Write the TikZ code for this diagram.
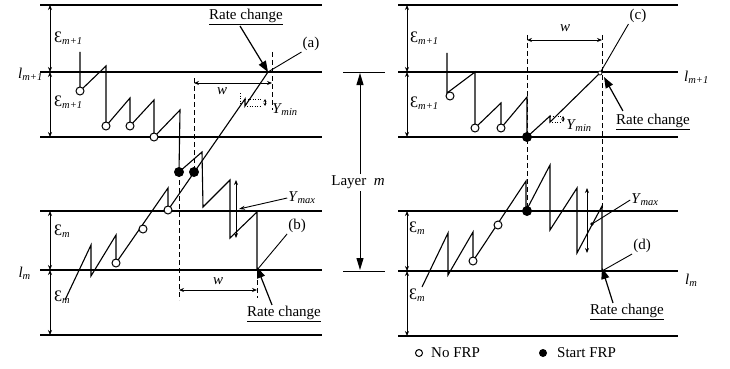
\documentclass[tikz,border=0pt]{standalone}
\usepackage{fontspec}
\setmainfont{Liberation Serif}
\usetikzlibrary{arrows.meta}
\newcommand\eps[1]{{\fontsize{16}{18}\selectfont Ɛ}\textsubscript{\textit{#1}}}
\newcommand\lvar[1]{\textit{l}\textsubscript{\textit{#1}}}
\newcommand\yvar[1]{\textit{Y}\kern-0.5pt\textsubscript{\textit{#1}}}
\tikzset{
 lvl/.style={line width=1.8pt},
 dimar/.style={line width=0.8pt, {Stealth[length=5pt,width=4pt]}-{Stealth[length=5pt,width=4pt]}},
 saw/.style={line width=1.1pt, line join=miter},
 opn/.style={circle, draw, line width=1pt, fill=white, inner sep=0pt, minimum size=8pt},
 fil/.style={circle, fill=black, inner sep=0pt, minimum size=10pt},
 dsh/.style={line width=1pt, dash pattern=on 5pt off 3pt},
 dtt/.style={line width=0.8pt, dash pattern=on 1pt off 1.5pt},
 lbl/.style={font=\fontsize{15}{17}\selectfont, inner sep=1pt},
 rcarrow/.style={line width=1.2pt, -{Triangle[length=11pt,width=8pt]}},
 lead/.style={line width=0.9pt},
 small/.style={line width=0.6pt, {Stealth[length=3pt,width=3pt]}-{Stealth[length=3pt,width=3pt]}},
}
\begin{document}
\begin{tikzpicture}[x=1pt,y=-1pt]
\useasboundingbox (0,0) rectangle (730,369);
% ---------- level lines ----------
\foreach \y in {5,72,137,211,270,335} \draw[lvl] (40,\y) -- (322,\y);
\foreach \y in {5,72,137,211,271,336} \draw[lvl] (398,\y) -- (678,\y);
% ---------- dimension arrows ----------
\draw[dimar] (50,5) -- (50,72);
\draw[dimar] (50,72) -- (50,137);
\draw[dimar] (50,211) -- (50,270);
\draw[dimar] (50,270) -- (50,335);
\draw[dimar] (407,5) -- (407,72);
\draw[dimar] (407,72) -- (407,137);
\draw[dimar] (407,211) -- (407,271);
\draw[dimar] (407,271) -- (407,336);
\node[lbl, anchor=west] (eL1) at (53,38) {\eps{m+1}};
\node[lbl, anchor=west] (eL2) at (53,102) {\eps{m+1}};
\node[lbl, anchor=west] (eL3) at (53,231) {\eps{m}};
\node[lbl, anchor=west] (eL4) at (53,297) {\eps{m}};
\node[lbl, anchor=west] (eR1) at (409,38) {\eps{m+1}};
\node[lbl, anchor=west] (eR2) at (409,103) {\eps{m+1}};
\node[lbl, anchor=west] (eR3) at (408,228) {\eps{m}};
\node[lbl, anchor=west] (eR4) at (408,295) {\eps{m}};
\node[lbl, anchor=east] (lL1) at (44,74) {\lvar{m+1}};
\node[lbl, anchor=east] (lL2) at (32,273) {\lvar{m}};
\node[lbl, anchor=west] (lR1) at (683,77) {\lvar{m+1}};
\node[lbl, anchor=west] (lR2) at (684,280) {\lvar{m}};
% ---------- layer m ----------
\draw[line width=1pt] (343,72) -- (385,72);
\draw[line width=1pt] (343,271) -- (385,271);
\node[lbl, inner sep=2pt] (layer) at (358,182) {Layer~~\textit{m}};
\draw[line width=1pt, -{Triangle[length=12pt,width=7pt]}] (360,174) -- (360,73);
\draw[line width=1pt, -{Triangle[length=12pt,width=7pt]}] (360,191) -- (360,270);
% ---------- left panel ----------
% dashed guides
\draw[dsh] (194,78) -- (194,172);
\draw[dsh] (179,172) -- (179,300);
\draw[dsh] (272,52) -- (272,110);
\draw[dsh] (257,272) -- (257,298);
\draw[dimar] (194,83) -- (272,83);
\node[lbl] (wL1) at (222,91) {\textit{w}};
\draw[dimar] (179,290) -- (257,290);
\node[lbl] (wL2) at (218,281) {\textit{w}};
% path (b)
\draw[saw] (80,52) -- (80,91) -- (106,66) -- (106,126) -- (130,98) -- (130,126) -- (154,100) -- (154,137)
  -- (180,110) -- (179,172) -- (202,152) -- (203,207) -- (230,180) -- (230,238) -- (257,212) -- (257,270);
% path (a)
\draw[saw] (65,300) -- (91,245) -- (91,276) -- (116,235) -- (116,263) -- (168,188) -- (168,210)
  -- (245,99) -- (245,106) -- (268,72);
\node[opn] (cL1) at (80,91) {};
\node[opn] (cL2) at (106,126) {};
\node[opn] (cL3) at (130,126) {};
\node[opn] (cL4) at (154,137) {};
\node[opn] (cL5) at (116,263) {};
\node[opn] (cL6) at (143,229) {};
\node[opn] (cL7) at (168,210) {};
\node[fil] (fL1) at (179,172) {};
\node[fil] (fL2) at (194,172) {};
% Y min left
\draw[dtt] (240,93) -- (240,104);
\draw[dtt] (245,99) -- (262,99);
\draw[dtt] (247,106) -- (262,106);
\draw[small] (265,99) -- (265,106);
\node[lbl] (yminL) at (285,110) {\yvar{min}};
% Y max left
\draw[dimar] (236,180) -- (236,238);
\node[lbl] (ymaxL) at (302,198) {\yvar{max}};
\draw[lead, -{Stealth[length=6pt,width=4pt]}] (ymaxL.west) -- (239,209);
% labels a, b
\coordinate (rcA) at (268,72);
\coordinate (rcB) at (257,270);
\node[lbl] (la) at (311,44) {(a)};
\draw[lead] (la.south west) -- (rcA);
\node[lbl] (lb) at (297,226) {(b)};
\draw[lead] (lb.south west) -- (rcB);
\node[lbl] (rcT) at (246,17) {\underline{Rate change}};
\draw[rcarrow] (240,26) -- (rcA);
\node[lbl] (rcBt) at (284,314) {\underline{Rate change}};
\draw[rcarrow] (rcBt.north) ++(-12,0) -- ([yshift=3pt]rcB);
% ---------- right panel ----------
\draw[dsh] (527,35) -- (527,211);
\draw[dsh] (602,35) -- (602,211);
\draw[dimar] (527,40) -- (602,40);
\node[lbl] (wR) at (565,28) {\textit{w}};
% path (c)
\draw[saw] (447,53) -- (447,93) -- (475,72) -- (475,128) -- (501,103) -- (501,128) -- (527,97) -- (527,137)
  -- (550,116) -- (550,122) -- (600,73);
% path (d)
\draw[saw] (422,287) -- (448,233) -- (448,275) -- (473,232) -- (473,261) -- (526,181) -- (526,211)
  -- (550,165) -- (550,230) -- (577,188) -- (577,253) -- (602,206) -- (602,271);
\node[opn] (cR1) at (450,96) {};
\node[opn] (cR2) at (475,128) {};
\node[opn] (cR3) at (501,128) {};
\node[opn] (cR4) at (473,261) {};
\node[opn] (cR5) at (498,225) {};
\node[fil] (fR1) at (527,137) {};
\node[fil] (fR2) at (527,211) {};
\node[circle, draw, fill=white, inner sep=0pt, minimum size=4pt, line width=0.7pt] (rcCpt) at (600,73) {};
% Y min right
\draw[dtt] (550,116) -- (561,116);
\draw[dtt] (552,122) -- (561,122);
\draw[small] (563,116) -- (563,122);
\node[lbl] (yminR) at (579,126) {\yvar{min}};
% Y max right
\draw[dimar] (587,188) -- (587,253);
\node[lbl] (ymaxR) at (645,200) {\yvar{max}};
\coordinate (ymaxRpt) at (592,224);
\draw[lead] (ymaxR.west) -- (ymaxRpt);
\fill (ymaxRpt) circle (1.8pt);
% labels c, d
\coordinate (rcD) at (602,271);
\node[lbl] (lc) at (638,16) {(c)};
\draw[lead] (lc.south west) -- (rcCpt);
\node[lbl] (ld) at (642,246) {(d)};
\draw[lead] (ld.south west) -- (rcD);
\node[lbl] (rcC) at (653,122) {\underline{Rate change}};
\draw[rcarrow] (rcC.north west) ++(8,-2) -- (604,77);
\node[lbl] (rcDt) at (627,312) {\underline{Rate change}};
\draw[rcarrow] (rcDt.north) ++(-14,0) -- ([yshift=3pt]rcD);
% ---------- legend ----------
\node[opn, minimum size=7pt] (legO) at (419,353) {};
\node[lbl, anchor=west] (legOt) at (430,353) {No FRP};
\node[fil, minimum size=8pt] (legF) at (543,353) {};
\node[lbl, anchor=west] (legFt) at (556,353) {Start FRP};
\end{tikzpicture}
\end{document}
